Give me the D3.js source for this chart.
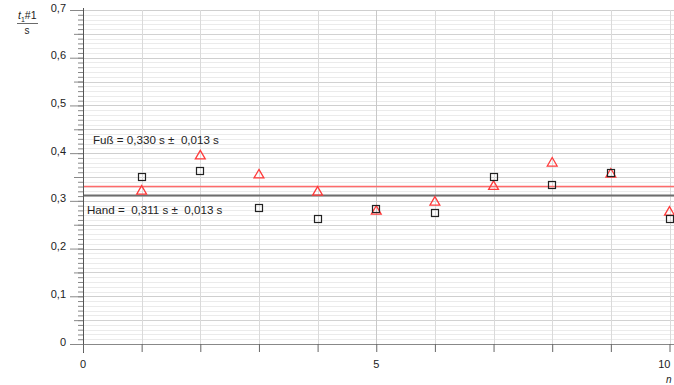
<!DOCTYPE html>
<html><head><meta charset="utf-8">
<script src="https://cdn.jsdelivr.net/npm/d3@7"></script>
<style>
body{margin:0;background:#fff;}
svg{display:block;font-family:"Liberation Sans",Arial,sans-serif;}
</style></head>
<body><svg id="c" width="674" height="385"></svg>
<script>
const runs = [1,2,3,4,5,6,7,8,9,10];
const hand = [0.351,0.363,0.284,0.262,0.282,0.274,0.351,0.333,0.359,0.261];
const fuss = [0.321,0.395,0.355,0.319,0.279,0.298,0.331,0.380,0.357,0.277];
const handMean = 0.311, fussMean = 0.330;
const yMajor = [0,0.1,0.2,0.3,0.4,0.5,0.6,0.7];
const xLabelTicks = [0,5,10];
const handLabel = "Hand =  0,311 s ±  0,013 s";
const fussLabel = "Fuß = 0,330 s ±  0,013 s";

const svg = d3.select("#c");
const x = d3.scaleLinear().domain([0,10]).range([83,669.5]);
const y = d3.scaleLinear().domain([0,0.7]).range([344,10]);
const loc = d3.formatLocale({decimal:",",thousands:".",grouping:[3],currency:["","€"]});
const fmt = v => v===0 ? "0" : loc.format(".1f")(v);

const minor = d3.range(0,71).map(i=>i/100);
const mid = d3.range(0,15).map(i=>i*0.05).filter(v=>Math.round(v*100)%10!==0);

const g = svg.append("g");
// horizontal gridlines
g.selectAll("line.hm").data(minor).join("line")
  .attr("x1",x(0)).attr("x2",674).attr("y1",d=>Math.round(y(d))+0.5).attr("y2",d=>Math.round(y(d))+0.5)
  .attr("stroke",d=>{const k=Math.round(d*100); return k%10===0?"#cfcfcf":(k%5===0?"#d2d2d2":"#ebebeb");})
  .attr("stroke-width",1);
// vertical gridlines
g.selectAll("line.v").data(d3.range(1,11)).join("line")
  .attr("x1",d=>Math.round(x(d))+0.5).attr("x2",d=>Math.round(x(d))+0.5)
  .attr("y1",y(0.7)).attr("y2",y(0))
  .attr("stroke",d=>d===5?"#c8c8c8":"#dadada");

// mean lines
svg.append("line").attr("x1",x(0)).attr("x2",674).attr("y1",y(fussMean)).attr("y2",y(fussMean))
  .attr("stroke","#ff6b6b").attr("stroke-width",1.6);
svg.append("line").attr("x1",x(0)).attr("x2",674).attr("y1",y(handMean)).attr("y2",y(handMean))
  .attr("stroke","#6e6e6e").attr("stroke-width",2);

// y axis
const ya = svg.append("g").attr("transform",`translate(${x(0)},0)`);
ya.call(d3.axisLeft(y).tickValues(minor).tickSize(5).tickFormat(""));
ya.select(".domain").remove();
const ya2 = svg.append("g").attr("transform",`translate(${x(0)},0)`);
ya2.call(d3.axisLeft(y).tickValues(mid).tickSize(9).tickFormat(""));
ya2.select(".domain").remove();
const ya3 = svg.append("g").attr("transform",`translate(${x(0)},0)`);
ya3.call(d3.axisLeft(y).tickValues(yMajor).tickSize(13).tickPadding(4).tickFormat(fmt));
ya3.select(".domain").attr("d",`M0.5,${y(0.7)-2}V${y(0)+9}`);
[ya,ya2,ya3].forEach(a=>a.selectAll(".tick line").attr("stroke","#888"));
ya3.select(".domain").attr("stroke","#555");
ya3.selectAll(".tick text").attr("font-size",11).attr("fill","#222").attr("dy","0.1em")
  .attr("font-family","'Liberation Sans',Arial,sans-serif");

// x axis
const xa = svg.append("g").attr("transform",`translate(0,${y(0)})`);
xa.call(d3.axisBottom(x).tickValues(d3.range(0,11)).tickSize(8).tickFormat(""));
xa.select(".domain").attr("d",`M${x(0)},0.5H674`).attr("stroke","#888");
xa.selectAll(".tick line").attr("stroke","#666");
svg.append("g").selectAll("text").data(xLabelTicks).join("text")
  .attr("x",d=>d===10?x(d)+1:x(d)).attr("y",368)
  .attr("text-anchor",d=>d===10?"end":"middle")
  .attr("font-size",11).attr("fill","#222").text(d=>d);

// axis titles
const yt = svg.append("text").attr("x",18).attr("y",19).attr("font-size",10.5).attr("fill","#222");
yt.append("tspan").attr("font-style","italic").text("t");
yt.append("tspan").attr("font-size",7).attr("dy",3).text("1");
yt.append("tspan").attr("dy",-3).text("#1");
svg.append("line").attr("x1",17).attr("x2",38).attr("y1",23.5).attr("y2",23.5).attr("stroke","#444").attr("stroke-width",0.8);
svg.append("text").attr("x",27).attr("y",34).attr("text-anchor","middle").attr("font-size",10).attr("fill","#222").text("s");
svg.append("text").attr("x",666).attr("y",383).attr("font-size",10).attr("font-style","italic").attr("fill","#222").text("n");

// annotations
svg.append("text").attr("x",93).attr("y",144).attr("font-size",11.6).attr("fill","#222")
  .style("white-space","pre").text(fussLabel);
svg.append("text").attr("x",87).attr("y",214).attr("font-size",11.6).attr("fill","#222")
  .style("white-space","pre").text(handLabel);

// markers
const tri = d3.symbol().type(d3.symbolTriangle).size(42);
svg.append("g").selectAll("path").data(runs).join("path")
  .attr("d",tri).attr("transform",(d,i)=>`translate(${x(d)},${y(fuss[i])+0.5})`)
  .attr("fill","none").attr("stroke","#ff3b3b").attr("stroke-width",1.3);
svg.append("g").selectAll("rect").data(runs).join("rect")
  .attr("x",d=>Math.round(x(d))-3.5).attr("y",(d,i)=>Math.round(y(hand[i]))-3.5)
  .attr("width",7).attr("height",7)
  .attr("fill","none").attr("stroke","#222").attr("stroke-width",1.2);
</script></body></html>
